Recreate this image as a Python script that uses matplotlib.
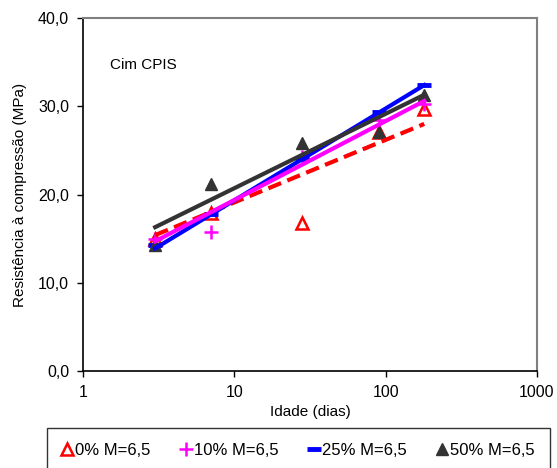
import matplotlib
matplotlib.use("Agg")
import matplotlib.pyplot as plt
from matplotlib.lines import Line2D
from matplotlib.ticker import FuncFormatter, FixedLocator, NullLocator

plt.rcParams['font.family'] = ['Liberation Sans', 'DejaVu Sans']

# idade (dias)
days = [3, 7, 28, 91, 180]

# resistencia a compressao (MPa)
r0 = [15.0, 17.9, 16.8, 27.1, 29.7]
r10 = [15.0, 15.75, 24.3, 28.4, 30.3]
r25 = [14.3, 17.8, 24.0, 29.3, 32.4]
r50 = [14.3, 21.2, 25.8, 27.1, 31.3]

# linhas de tendencia (logaritmica): valor em 3 e 180 dias
trend_x = [3, 180]
t0 = [15.4, 28.0]
t10 = [14.7, 30.6]
t25 = [13.9, 32.4]
t50 = [16.3, 31.3]

labels = ['0% M=6,5', '10% M=6,5', '25% M=6,5', '50% M=6,5']

fig = plt.figure(figsize=(5.57, 4.68), dpi=100)
ax = fig.add_axes([0.149, 0.2073, 0.815, 0.7542])

# points (drawn under the trend lines, like Excel)
ax.plot(days, r0, ls='none', marker='^', ms=8, mfc='none', mec='red', mew=1.8, zorder=2)
ax.plot(days, r10, ls='none', marker='+', ms=10, mec='magenta', mew=1.8, zorder=2)
ax.plot(days, r25, ls='none', marker='_', ms=10, mec='blue', mew=3.5, zorder=2)
ax.plot(days, r50, ls='none', marker='^', ms=9, mfc='#333333', mec='#333333', zorder=2)

# trend lines
ax.plot(trend_x, t0, color='red', lw=3, ls=(0, (3.3, 1.6)), zorder=3)
ax.plot(trend_x, t25, color='blue', lw=3, zorder=3)
ax.plot(trend_x, t50, color='#333333', lw=3, zorder=3)
ax.plot(trend_x, t10, color='magenta', lw=3, zorder=3)

ax.set_xscale('log')
ax.set_xlim(1, 1000)
ax.set_ylim(0, 40)
ax.xaxis.set_major_locator(FixedLocator([1, 10, 100, 1000]))
ax.xaxis.set_minor_locator(NullLocator())
ax.xaxis.set_major_formatter(FuncFormatter(lambda v, p: '%d' % v))
ax.set_yticks([0, 10, 20, 30, 40])
ax.yaxis.set_major_formatter(FuncFormatter(lambda v, p: ('%.1f' % v).replace('.', ',')))

for s in ['top', 'right']:
    ax.spines[s].set_color('#808080')
    ax.spines[s].set_linewidth(1.5)
for s in ['left', 'bottom']:
    ax.spines[s].set_color('black')
    ax.spines[s].set_linewidth(1.2)
ax.tick_params(direction='out', length=4, width=1, labelsize=11.5, pad=6)

ax.set_xlabel('Idade (dias)', fontsize=11, labelpad=4)
ax.set_ylabel('Resistência à compressão (MPa)', fontsize=11, labelpad=8)
ax.text(0.06, 0.855, 'Cim CPIS', transform=ax.transAxes, fontsize=11)

handles = [
    Line2D([], [], ls='none', marker='^', ms=8, mfc='none', mec='red', mew=1.8),
    Line2D([], [], ls='none', marker='+', ms=10, mec='magenta', mew=1.8),
    Line2D([], [], ls='none', marker='_', ms=10, mec='blue', mew=3.5),
    Line2D([], [], ls='none', marker='^', ms=9, mfc='#333333', mec='#333333'),
]
leg = fig.legend(handles, labels, loc='upper left', bbox_to_anchor=(47 / 557, 1 - 428 / 468), ncol=4,
                 fontsize=12, frameon=True, fancybox=False, handlelength=0.6,
                 handletextpad=0.2, columnspacing=1.8, borderpad=0.9, borderaxespad=0)
leg.get_frame().set_edgecolor('black')
leg.get_frame().set_linewidth(1.0)

fig.savefig('out.png', dpi=100)
